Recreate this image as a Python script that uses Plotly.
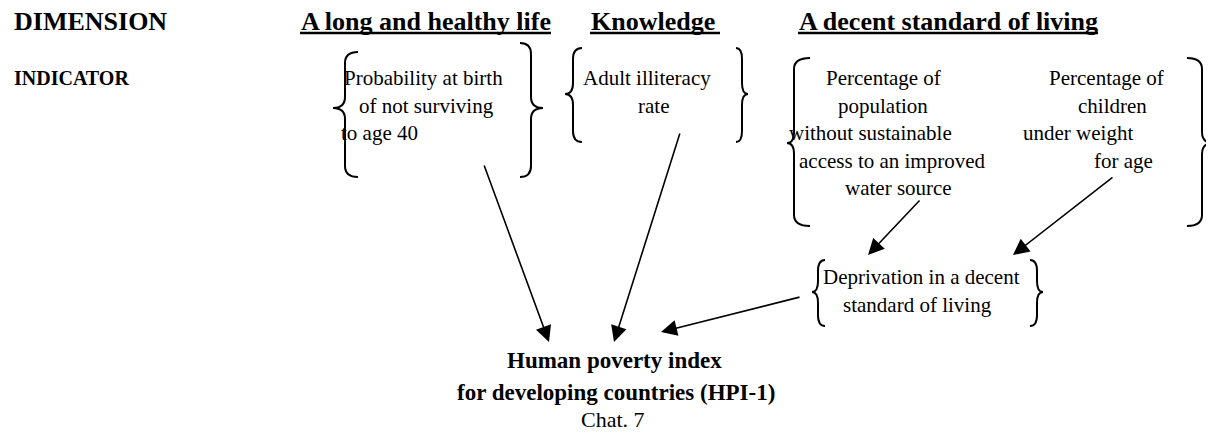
import plotly.graph_objects as go

W, H = 1214, 435
PAGE_MARGIN = 8  # default body margin of the html page
FONT = "Liberation Serif"

# ---- text content ----
row_labels = ["DIMENSION", "INDICATOR"]
dimensions = ["A long and healthy life", "Knowledge", "A decent standard of living"]
indicator_lines = [
    "Probability at birth", "of not surviving", "to age 40",
    "Adult illiteracy", "rate",
    "Percentage of", "population", "without sustainable", "access to an improved", "water source",
    "Percentage of", "children", "under weight", "for age",
]
deprivation_lines = ["Deprivation in a decent", "standard of living"]
result_lines = ["Human poverty index", "for developing countries (HPI-1)"]
caption = "Chat. 7"

# ---- layout positions (pixels in the final picture) ----
row_pos = [(13, 21, 26), (13, 78, 20)]          # x, y, size
dim_pos = [(300, 551), (590, 720), (798, 1098)]  # left, underline end
dim_y, underline_y = 21, 33
ind_pos = [  # (x, y, anchor)
    (343, 78, "left"), (358, 106, "left"), (340, 133, "left"),
    (582, 78, "left"), (653, 106, "center"),
    (883, 78, "center"), (883, 106, "center"), (788, 133, "left"), (798, 161, "left"), (898, 188, "center"),
    (1106, 78, "center"), (1112, 106, "center"), (1022, 133, "left"), (1093, 161, "left"),
]
dep_pos = [(822, 277), (842, 305)]
res_pos = [(614, 360), (616, 392)]
cap_pos = (613, 419)

# braces: spine x, tip x, end x, top, tip y, bottom
braces = [
    (345, 333, 358, 52, 108, 177), (531, 543, 520, 43, 108, 177),
    (573, 565, 582, 48, 94, 142), (742, 748, 736, 48, 94, 142),
    (794, 787, 810, 58, 143, 226), (1202, 1213, 1187, 58, 143, 226),
    (818, 812, 825, 260, 292, 326), (1037, 1043, 1030, 260, 292, 326),
]
# arrows: tail (x, y) -> head (x, y)
arrows = [
    ((484, 165), (549, 342)),
    ((680, 133), (614, 342)),
    ((800, 297), (661, 332)),
    ((920, 200), (868, 255)),
    ((1113, 177), (1013, 255)),
]


def brace_path(sx, tx, ex, top, ty, bot, r=11):
    return (f"M{ex},{top} Q{sx},{top} {sx},{top + r} L{sx},{ty - r} "
            f"Q{sx},{ty} {tx},{ty} Q{sx},{ty} {sx},{ty + r} "
            f"L{sx},{bot - r} Q{sx},{bot} {ex},{bot}")


fig = go.Figure()
ann = []
shapes = []

for lab, (x, y, s) in zip(row_labels, row_pos):
    ann.append(dict(x=x, y=y, text=f"<b>{lab}</b>", xanchor="left", yanchor="middle",
                    font=dict(family=FONT, size=s, color="black")))

for lab, (x0, x1) in zip(dimensions, dim_pos):
    ann.append(dict(x=x0, y=dim_y, text=f"<b>{lab}</b>", xanchor="left", yanchor="middle",
                    font=dict(family=FONT, size=26, color="black")))
    shapes.append(dict(type="line", x0=x0, x1=x1, y0=underline_y, y1=underline_y,
                       line=dict(color="black", width=2.5)))

for lab, (x, y, a) in zip(indicator_lines, ind_pos):
    ann.append(dict(x=x, y=y, text=lab, xanchor=a, yanchor="middle",
                    font=dict(family=FONT, size=21, color="black")))

for lab, (x, y) in zip(deprivation_lines, dep_pos):
    ann.append(dict(x=x, y=y, text=lab, xanchor="left", yanchor="middle",
                    font=dict(family=FONT, size=21, color="black")))

for lab, (x, y) in zip(result_lines, res_pos):
    ann.append(dict(x=x, y=y, text=f"<b>{lab}</b>", xanchor="center", yanchor="middle",
                    font=dict(family=FONT, size=23, color="black")))

ann.append(dict(x=cap_pos[0], y=cap_pos[1], text=caption, xanchor="center", yanchor="middle",
                font=dict(family=FONT, size=22, color="black")))

for b in braces:
    shapes.append(dict(type="path", path=brace_path(*b), line=dict(color="black", width=2)))

for (tx, ty), (hx, hy) in arrows:
    ann.append(dict(x=hx, y=hy, ax=tx, ay=ty, axref="x", ayref="y", text="",
                    showarrow=True, arrowhead=2, arrowsize=2, arrowwidth=1.6,
                    arrowcolor="black", standoff=0, startstandoff=0))

for a in ann:
    a.setdefault("xref", "x")
    a.setdefault("yref", "y")
    a.setdefault("showarrow", False)
    a.setdefault("borderpad", 0)

# the page's body margin offsets the figure, so the figure covers the visible
# window area only and its axes map directly to picture pixels
fig.update_layout(
    width=W - PAGE_MARGIN, height=H - PAGE_MARGIN, margin=dict(l=0, r=0, t=0, b=0),
    paper_bgcolor="white", plot_bgcolor="white",
    xaxis=dict(range=[PAGE_MARGIN, W], visible=False, fixedrange=True),
    yaxis=dict(range=[H, PAGE_MARGIN], visible=False, fixedrange=True),
    annotations=ann, shapes=shapes, showlegend=False,
)
fig.write_html("out.html")
